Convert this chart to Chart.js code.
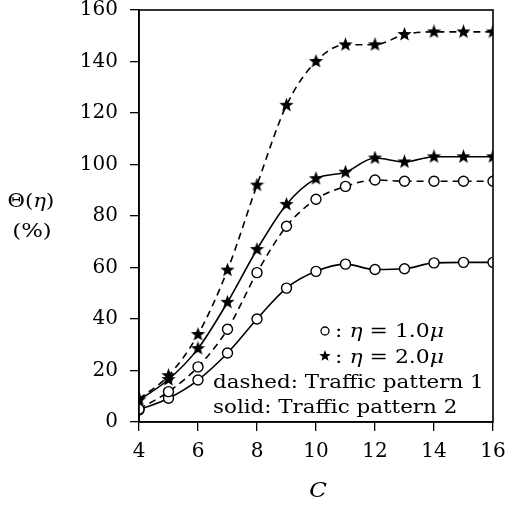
<!DOCTYPE html>
<html>
<head>
<meta charset="utf-8">
<script src="https://cdn.jsdelivr.net/npm/chart.js@4/dist/chart.umd.min.js"></script>
<style>
html,body{margin:0;padding:0;background:#fff;}
#wrap{width:507px;height:506px;}
</style>
</head>
<body>
<div id="wrap"><canvas id="c" width="507" height="506"></canvas></div>
<script>
const categories = [4,5,6,7,8,9,10,11,12,13,14,15,16];
const starDashed  = [9,18,34,59,92,123,140,146.5,146.5,150.5,151.5,151.5,151.5];
const starSolid   = [8.5,16.5,28.5,46.5,67,84.5,94.5,97,102.5,101,103,103,103];
const circDashed  = [5,11.8,21.4,36,58,76,86.5,91.5,94,93.5,93.5,93.5,93.5];
const circSolid   = [4.7,9.2,16.3,26.8,40,52,58.5,61.3,59.2,59.5,61.8,62,62];
const yTicks = [0,20,40,60,80,100,120,140,160];
const xTicks = [4,6,8,10,12,14,16];

const SERIF = '"DejaVu Serif", "Liberation Serif", serif';

function makeStar(size){
  const cv = document.createElement('canvas');
  cv.width = size; cv.height = size;
  const g = cv.getContext('2d');
  const cx = size/2, cy = size/2, R = size/2, r = R*0.42;
  g.beginPath();
  for(let i=0;i<10;i++){
    const ang = -Math.PI/2 + i*Math.PI/5;
    const rad = i%2===0 ? R : r;
    const px = cx + rad*Math.cos(ang), py = cy + rad*Math.sin(ang);
    if(i===0) g.moveTo(px,py); else g.lineTo(px,py);
  }
  g.closePath();
  g.fillStyle = '#000';
  g.fill();
  return cv;
}
const starImg = makeStar(15);
const starSmall = makeStar(12);

function pts(arr){ return categories.map((c,i)=>({x:c,y:arr[i]})); }

function ds(arr, dashed, star){
  return {
    data: pts(arr),
    borderColor:'#000',
    borderWidth:1.6,
    borderDash: dashed ? [7,5] : [],
    cubicInterpolationMode:'monotone',
    pointStyle: star ? starImg : 'circle',
    pointRadius: star ? 7.5 : 5,
    pointBorderColor:'#000',
    pointBackgroundColor:'#fff',
    pointBorderWidth:1.4,
    fill:false
  };
}

function rich(ctx, parts, x, y, size, sx){
  sx = sx || 1;
  ctx.save();
  ctx.translate(x, y);
  ctx.scale(sx, 1);
  let cx = 0;
  parts.forEach(p=>{
    ctx.font = (p.i ? 'italic ' : '') + size + 'px ' + SERIF;
    ctx.fillText(p.t, cx, 0);
    cx += ctx.measureText(p.t).width;
  });
  ctx.restore();
  return x + cx*sx;
}
function richWidth(ctx, parts, size, sx){
  let w = 0;
  parts.forEach(p=>{
    ctx.font = (p.i ? 'italic ' : '') + size + 'px ' + SERIF;
    w += ctx.measureText(p.t).width;
  });
  return w*(sx||1);
}

const decor = {
  id:'decor',
  afterDraw(chart){
    const ctx = chart.ctx;
    const a = chart.chartArea;
    ctx.save();
    ctx.strokeStyle = '#000';
    ctx.lineWidth = 1.6;
    ctx.strokeRect(a.left, a.top, a.right-a.left, a.bottom-a.top);
    ctx.fillStyle = '#000';
    ctx.textBaseline = 'alphabetic';
    ctx.textAlign = 'left';
    const fs = 18, sx = 1.19;
    ctx.beginPath();
    ctx.lineWidth = 1.3;
    ctx.arc(325, 331, 4, 0, Math.PI*2);
    ctx.stroke();
    rich(ctx, [{t:': '},{t:'η',i:true},{t:' = 1.0'},{t:'μ',i:true}], 335, 337, fs, 1.22);
    ctx.drawImage(starSmall, 325-6, 356-6);
    rich(ctx, [{t:': '},{t:'η',i:true},{t:' = 2.0'},{t:'μ',i:true}], 335, 363, fs, 1.22);
    rich(ctx, [{t:'dashed: Traffic pattern 1'}], 213, 388, fs, sx);
    rich(ctx, [{t:'solid: Traffic pattern 2'}], 213, 413, fs, sx);
    const p1 = [{t:'Θ('},{t:'η',i:true},{t:')'}];
    rich(ctx, p1, 31 - richWidth(ctx,p1,19,1.12)/2, 207, 19, 1.12);
    const p2 = [{t:'(%)'}];
    rich(ctx, p2, 32 - richWidth(ctx,p2,19,1.2)/2, 237, 19, 1.2);
    const p3 = [{t:'C',i:true}];
    rich(ctx, p3, 318 - richWidth(ctx,p3,21,1.1)/2, 497, 21, 1.1);
    ctx.restore();
  }
};

new Chart(document.getElementById('c'), {
  type:'line',
  data:{
    datasets:[
      ds(starDashed,true,true),
      ds(starSolid,false,true),
      ds(circDashed,true,false),
      ds(circSolid,false,false)
    ]
  },
  options:{
    responsive:false,
    animation:false,
    layout:{padding:{top:10,right:14,left:0,bottom:0}},
    plugins:{legend:{display:false},tooltip:{enabled:false}},
    scales:{
      x:{
        type:'linear', min:4, max:16,
        afterFit(s){ s.height = 84; s.paddingLeft = 0; s.paddingRight = 0; },
        afterBuildTicks(s){ s.ticks = xTicks.map(v=>({value:v})); },
        grid:{drawOnChartArea:false, drawTicks:true, tickLength:9, color:'#000', lineWidth:1.3},
        border:{display:true, color:'#000', width:1.6},
        ticks:{color:'#000', font:{family:SERIF, size:20}, padding:9, maxRotation:0, autoSkip:false}
      },
      y:{
        type:'linear', min:0, max:160,
        afterFit(s){ s.width = 139; s.paddingTop = 0; s.paddingBottom = 0; },
        afterBuildTicks(s){ s.ticks = yTicks.map(v=>({value:v})); },
        grid:{drawOnChartArea:false, drawTicks:true, tickLength:9, color:'#000', lineWidth:1.3},
        border:{display:true, color:'#000', width:1.6},
        ticks:{color:'#000', font:{family:SERIF, size:20}, padding:12, autoSkip:false}
      }
    }
  },
  plugins:[decor]
});
</script>
</body>
</html>
